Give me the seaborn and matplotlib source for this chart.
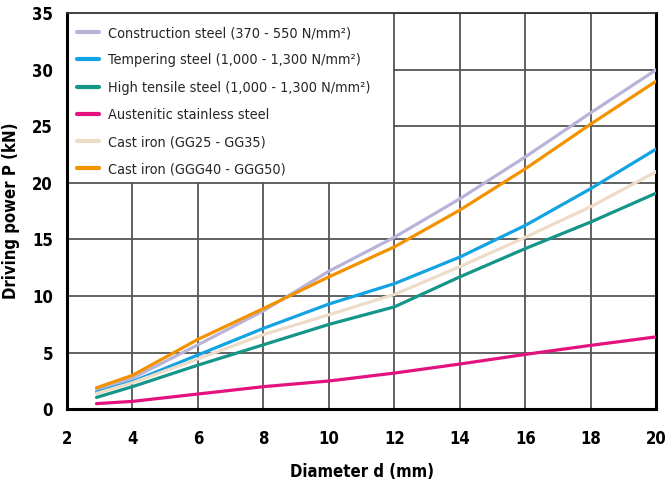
import matplotlib
matplotlib.use("Agg")
import matplotlib.pyplot as plt
from matplotlib.patches import Rectangle
import seaborn as sns
import pandas as pd

# Diameter d (mm) at which the driving power was read
diameter = [2.9, 4, 6, 8, 10, 12, 14, 16, 18, 20]

construction = [1.7, 2.75, 5.7, 8.7, 12.2, 15.2, 18.6, 22.3, 26.2, 30.0]
tempering = [1.5, 2.45, 4.8, 7.15, 9.3, 11.1, 13.45, 16.25, 19.5, 23.0]
high_tensile = [1.05, 2.0, 3.9, 5.7, 7.5, 9.05, 11.7, 14.2, 16.55, 19.1]
austenitic = [0.5, 0.7, 1.35, 2.0, 2.5, 3.2, 4.0, 4.85, 5.65, 6.4]
cast_gg = [1.4, 2.35, 4.45, 6.6, 8.35, 10.15, 12.6, 15.2, 17.9, 21.0]
cast_ggg = [1.9, 3.0, 6.18, 8.9, 11.7, 14.35, 17.6, 21.25, 25.2, 29.0]

labels = [
    "Construction steel (370 - 550 N/mm²)",
    "Tempering steel (1,000 - 1,300 N/mm²)",
    "High tensile steel (1,000 - 1,300 N/mm²)",
    "Austenitic stainless steel",
    "Cast iron (GG25 - GG35)",
    "Cast iron (GGG40 - GGG50)",
]
series = [construction, tempering, high_tensile, austenitic, cast_gg, cast_ggg]
colors = ["#b9b3da", "#12a3e2", "#14958a", "#e3127f", "#ecdcc8", "#f39200"]

x_ticks = [2, 4, 6, 8, 10, 12, 14, 16, 18, 20]
y_ticks = [0, 5, 10, 15, 20, 25, 30, 35]

rows = []
for name, vals in zip(labels, series):
    for d, p in zip(diameter, vals):
        rows.append({"Diameter": d, "Power": p, "Material": name})
df = pd.DataFrame(rows)

sns.set_theme(style="white")
plt.rcParams["font.family"] = ["DejaVu Sans"]
plt.rcParams["font.stretch"] = "condensed"

fig = plt.figure(figsize=(6.66, 4.83), dpi=100)
ax = fig.add_axes([0.1006, 0.1526, 0.885, 0.8204])

sns.lineplot(data=df, x="Diameter", y="Power", hue="Material",
             hue_order=labels, palette=colors, linewidth=2.3,
             ax=ax, legend=True, zorder=3)

ax.set_xlim(2, 20)
ax.set_ylim(0, 35)
ax.set_xticks(x_ticks)
ax.set_yticks(y_ticks)
ax.set_axisbelow(True)
ax.grid(True, color="#555555", linewidth=1.3)

# white panel behind the legend
ax.add_patch(Rectangle((2, 20.07), 9.96, 14.93, facecolor="white",
                       edgecolor="none", zorder=1))

for side in ["left", "bottom", "right"]:
    ax.spines[side].set_color("black")
    ax.spines[side].set_linewidth(2.2)
ax.spines["top"].set_color("#333333")
ax.spines["top"].set_linewidth(1.3)

ax.tick_params(axis="both", length=0, labelsize=12, colors="black")
ax.tick_params(axis="x", pad=15)
ax.tick_params(axis="y", pad=10)
for lab in ax.get_xticklabels() + ax.get_yticklabels():
    lab.set_fontweight("bold")

ax.set_xlabel("Diameter d (mm)", fontsize=12, fontweight="bold",
              labelpad=11, color="black")
ax.set_ylabel("Driving power P (kN)", fontsize=12, fontweight="bold",
              labelpad=9, color="black")

handles, labs = ax.get_legend_handles_labels()
leg = ax.legend(handles, labs, loc="upper left", bbox_to_anchor=(0.01, 0.978),
                frameon=False, fontsize=10.4, handlelength=1.5, handletextpad=0.6,
                labelspacing=0.92, borderaxespad=0, borderpad=0.3)
for line in leg.get_lines():
    line.set_linewidth(3)

fig.savefig("out.png", dpi=100)
